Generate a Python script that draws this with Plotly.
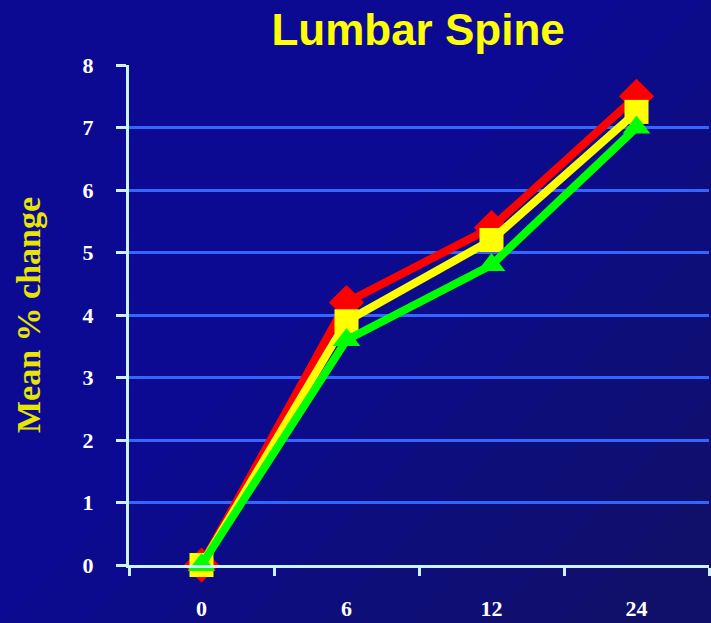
import plotly.graph_objects as go

months = ['0', '6', '12', '24']
red_vals = [0, 4.2, 5.4, 7.5]
yellow_vals = [0, 3.9, 5.2, 7.25]
green_vals = [0, 3.6, 4.8, 7.0]
y_ticks = [0, 1, 2, 3, 4, 5, 6, 7, 8]

W, H = 711, 623
L, R, T, B = 129, 2, 65, 58


def px_to_paper(px, py):
    # convert figure pixel to plot-area paper coords
    return (px - L) / (W - L - R), (H - B - py) / (H - T - B)


def band(k):
    # region where px + py > k (lower right part of the slide)
    if k > W:
        pts = [(W + 5, k - W - 5), (W + 5, H + 5), (k - H - 5, H + 5)]
    else:
        pts = [(k, 0), (W + 5, 0), (W + 5, H + 5), (0, H + 5), (0, k)]
        if k > H:
            pts = [(k, 0), (W + 5, 0), (W + 5, H + 5), (k - H - 5, H + 5)]
    return 'M ' + ' L '.join('%.4f,%.4f' % px_to_paper(px, py) for px, py in pts) + ' Z'


fig = go.Figure()
fig.add_trace(go.Scatter(x=months, y=red_vals, mode='lines+markers', name='red', cliponaxis=False,
                         line=dict(color='#ff0000', width=8),
                         marker=dict(symbol='diamond', size=27, color='#ff0000')))
fig.add_trace(go.Scatter(x=months, y=yellow_vals, mode='lines+markers', name='yellow', cliponaxis=False,
                         line=dict(color='#ffff00', width=8),
                         marker=dict(symbol='square', size=24, color='#ffff00')))
fig.add_trace(go.Scatter(x=months, y=green_vals, mode='lines+markers', name='green', cliponaxis=False,
                         line=dict(color='#00ff00', width=8),
                         marker=dict(symbol='triangle-up', size=24, color='#00ff00')))

# soft diagonal shading of the slide background
c0, c1 = (12, 10, 146), (16, 16, 106)
steps = 8
shapes = []
for i in range(1, steps + 1):
    k = 550 + i * 80
    t = i / steps
    col = 'rgb(%d,%d,%d)' % tuple(round(a + (b - a) * t) for a, b in zip(c0, c1))
    shapes.append(dict(type='path', path=band(k), xref='paper', yref='paper',
                       fillcolor=col, line=dict(width=0), layer='below'))

fig.update_layout(
    width=W, height=H,
    margin=dict(l=L, r=R, t=T, b=B),
    paper_bgcolor='rgb(12,10,146)', plot_bgcolor='rgba(0,0,0,0)',
    showlegend=False,
    shapes=shapes,
    title=dict(text='Lumbar Spine', x=0.588, xanchor='center', y=0.952, yanchor='middle',
               font=dict(family='Liberation Sans, Arial', size=44, color='#ffff00', weight='bold')),
)
fig.update_xaxes(type='category', range=[-0.5, 3.5], tickson='boundaries',
                 showline=True, linecolor='#ccf2ff', linewidth=3,
                 ticks='outside', ticklen=8, tickwidth=3, tickcolor='#ccf2ff',
                 showgrid=False, ticklabelstandoff=22,
                 tickfont=dict(family='Liberation Serif, Times New Roman', size=22, color='white', weight='bold'))
fig.update_yaxes(range=[0, 8], tickvals=y_ticks, showline=True, linecolor='#ccf2ff', linewidth=3,
                 ticks='outside', ticklen=10, tickwidth=3, tickcolor='#ccf2ff',
                 showgrid=True, gridcolor='#3366ff', gridwidth=3, zeroline=False,
                 ticklabelstandoff=18,
                 tickfont=dict(family='Liberation Serif, Times New Roman', size=22, color='white', weight='bold'),
                 title=dict(text='Mean % change', standoff=32,
                            font=dict(family='Liberation Serif, Times New Roman', size=34, color='#e6e600',
                                      weight='bold')))

fig.write_html('out.html', config={'displayModeBar': False},
               post_script="document.body.style.margin='0';")
